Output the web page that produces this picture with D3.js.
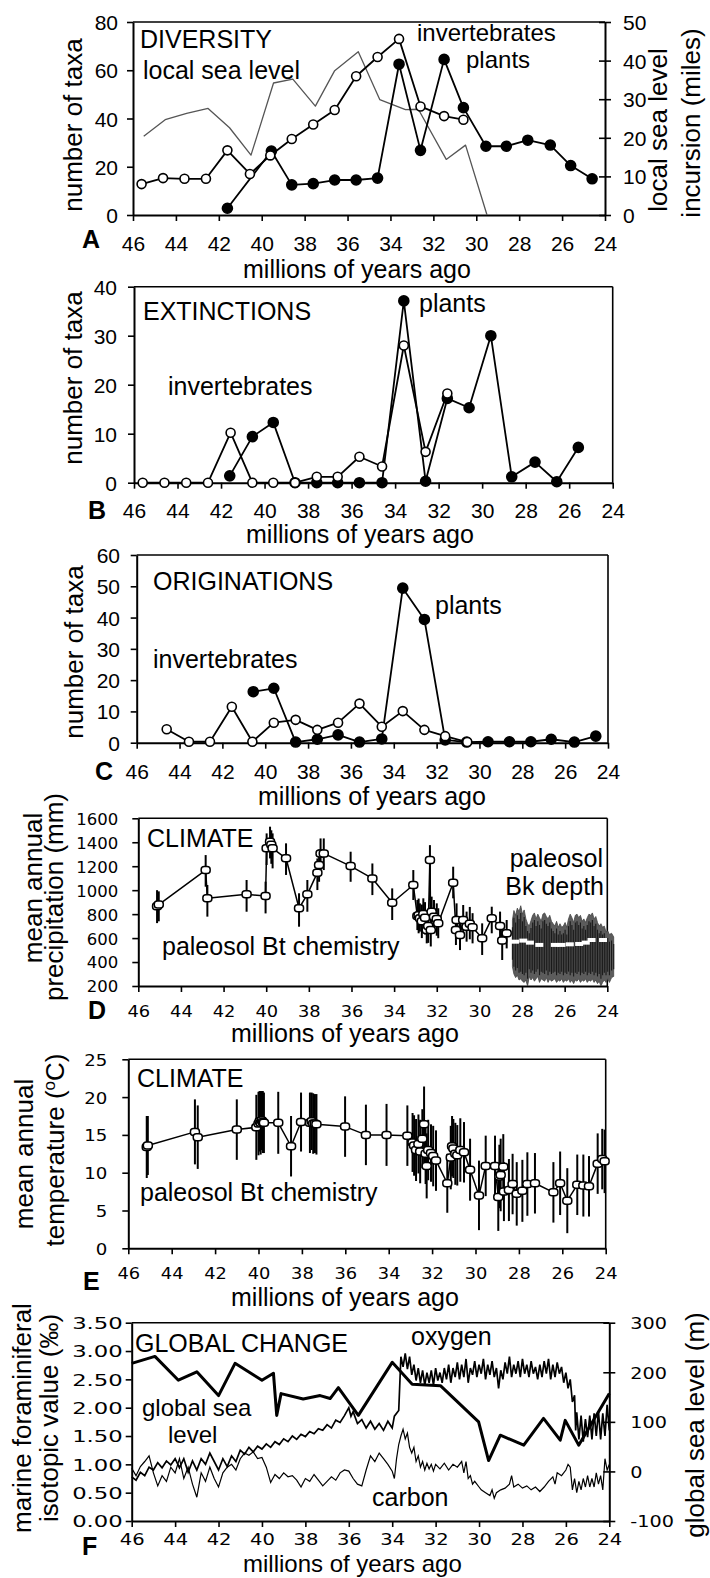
<!DOCTYPE html>
<html><head><meta charset="utf-8">
<script src="https://cdn.jsdelivr.net/npm/d3@7/dist/d3.min.js"></script>
<style>
body{margin:0;background:#fff}
svg{display:block;background:#fff}
</style></head><body>
<svg id="c" width="710" height="1578"></svg>
<script>
// ---------------- DATA ----------------
const ageTicks=[46,44,42,40,38,36,34,32,30,28,26,24];

// A: diversity
const aInvAge=[45.6,44.6,43.6,42.6,41.6,40.55,39.6,38.6,37.6,36.6,35.6,34.6,33.6,32.6,31.5,30.6];
const aInvVal=[12.8,15.3,15,15,26.8,17,24.7,31.5,37.5,43.5,57.5,65.5,73,45,41,39.5];
const aPlAge=[41.6,39.55,38.6,37.6,36.6,35.6,34.6,33.6,32.6,31.5,30.6,29.55,28.6,27.6,26.55,25.6,24.6];
const aPlVal=[2.8,26.5,12.5,13,14.5,14.5,15.3,62.5,26.8,64.5,44.5,28.5,28.5,31,29,20.5,15];
const aSeaAge=[45.5,44.5,43.5,42.5,41.5,40.5,39.45,38.55,37.5,36.6,35.5,34.5,33.3,32.7,31.4,30.5,29.5];
const aSeaVal=[20.4,24.7,26.3,27.6,22.6,15.5,34.2,35.2,28.2,37.4,42.3,29.9,27.3,27.4,14.4,18.1,0];

// B: extinctions
const bInvAge=[45.6,44.6,43.6,42.6,41.56,40.56,39.6,38.6,37.6,36.64,35.64,34.6,33.6,32.6,31.6];
const bInvVal=[0,0,0,0,10.2,0,0,0,1.2,1.2,5.3,3.3,28,6.3,18.2];
const bPlAge=[41.6,40.56,39.6,38.6,37.6,36.64,35.64,34.6,33.6,32.6,31.6,30.6,29.6,28.64,27.57,26.57,25.58];
const bPlVal=[1.4,9.4,12.3,0,0,0,0,0,37.1,0.3,17.2,15.3,30,1.2,4.2,0.2,7.2];

// C: originations
const cInvAge=[44.6,43.56,42.58,41.56,40.6,39.6,38.58,37.57,36.6,35.6,34.56,33.58,32.57,31.6,30.57];
const cInvVal=[4.3,0.3,0.3,11.5,0.3,6.4,7.3,4.1,6.4,12.5,5.1,10.1,4.1,2.1,0.2];
const cPlAge=[40.56,39.6,38.58,37.57,36.6,35.6,34.56,33.58,32.57,31.6,30.6,29.6,28.6,27.6,26.65,25.57,24.57];
const cPlVal=[16.3,17.4,0.2,1.1,2.5,0.2,1.2,49.4,39.4,0.9,0.2,0.3,0.3,0.3,1.1,0.2,2.1];

// D: precipitation (Bt chemistry) age, value, low, high (mm)
const dAge=[45.12,45.04,42.84,42.76,40.92,40.03,39.98,39.82,39.76,39.7,39.07,38.46,38.07,37.6,37.52,37.45,37.3,36.04,35.02,34.09,33.1,32.91,32.85,32.79,32.7,32.63,32.55,32.47,32.4,32.32,32.28,32.24,32.13,32.0,31.93,31.23,31.1,31.07,30.91,30.76,30.6,30.45,30.32,29.87,29.42,29.03,28.93,28.72];
const dVal=[865,880,1168,932,965,951,1349,1405,1380,1349,1266,849,965,1146,1210,1307,1307,1201,1098,895,1043,784,790,765,740,801,770,668,700,1251,668,820,779,760,723,1062,668,751,626,751,695,720,690,598,765,701,579,640];
const dLo=[725,740,1029,779,820,806,1210,1265,1220,1182,1127,695,820,1001,1070,1168,1168,1070,959,751,918,667,640,654,600,695,630,556,560,1001,530,695,654,620,599,932,542,626,500,612,570,590,556,459,640,584,417,514];
const dHi=[1000,990,1293,1043,1085,1071,1474,1530,1500,1474,1391,974,1085,1265,1340,1432,1432,1321,1223,1015,1168,918,930,890,880,932,900,793,840,1376,900,946,918,890,849,1196,793,890,751,876,821,860,808,723,862,821,695,751];
// D: paleosol Bk depth band [age, low, high] and mean markers
const dBand=[[28.45,360,750],[28.38,300,830],[28.3,270,790],[28.22,290,850],[28.14,250,820],[28.06,260,870],[27.98,240,800],[27.9,230,835],[27.82,250,760],[27.74,200,720],[27.66,280,700],[27.58,250,745],[27.5,270,790],[27.42,240,810],[27.34,260,760],[27.26,280,800],[27.18,230,770],[27.1,260,740],[27.02,250,800],[26.94,240,810],[26.86,270,780],[26.78,230,760],[26.7,260,790],[26.62,240,740],[26.54,250,720],[26.46,260,700],[26.38,230,740],[26.3,250,690],[26.22,240,720],[26.14,260,690],[26.06,230,700],[25.98,250,730],[25.9,240,690],[25.82,260,760],[25.74,230,800],[25.66,250,770],[25.58,220,730],[25.5,250,790],[25.42,240,800],[25.34,260,770],[25.26,230,790],[25.18,250,740],[25.1,240,760],[25.02,260,730],[24.94,230,770],[24.86,250,800],[24.78,240,790],[24.7,260,810],[24.62,230,760],[24.54,250,780],[24.46,220,730],[24.38,240,700],[24.3,200,720],[24.22,230,690],[24.14,250,700],[24.06,230,650],[23.98,260,660],[23.9,230,630],[23.8,270,640],[23.7,280,610]];
const dBkAge=[28.33,27.94,27.63,27.19,26.46,26.15,25.76,25.32,25.01,24.74,24.2];
const dBkVal=[570,579,562,543,543,543,548,551,562,584,584];

// E: temperature age, value, +/- error (deg C)
const eAge=[45.15,45.1,42.93,42.8,41.0,40.1,40.0,39.95,39.9,39.85,39.8,39.75,39.09,38.5,38.04,37.63,37.55,37.48,37.4,37.33,36.01,35.05,34.1,33.14,32.9,32.83,32.74,32.63,32.55,32.45,32.37,32.3,32.25,32.18,32.05,31.95,31.82,31.3,31.14,31.08,31.02,30.93,30.84,30.7,30.53,30.25,29.84,29.53,29.1,28.95,28.9,28.84,28.72,28.69,28.46,28.29,28.1,27.84,27.61,27.26,26.41,26.1,25.77,25.31,25.03,24.77,24.37,24.16,24.05];
const eVal=[13.4,13.6,15.4,14.7,15.7,16.0,16.5,16.8,16.6,16.9,16.7,16.6,16.6,13.5,16.7,16.6,16.8,16.5,16.5,16.4,16.1,15.0,15.0,14.9,14.0,13.6,13.0,13.8,12.8,14.5,16.4,12.5,10.9,13.0,12.6,12.2,11.6,8.6,12.0,13.5,13.2,12.5,12.3,13.0,12.7,10.4,7.0,10.9,10.9,6.8,9.5,9.7,10.8,7.5,7.7,8.5,7.2,7.6,8.5,8.6,7.4,8.6,6.3,8.4,8.3,8.2,11.2,11.8,11.5];
const eErr=[4.1,3.9,4.3,4.2,4.0,4.3,4.2,4.0,4.2,3.9,4.1,4.0,4.1,4.0,3.9,4.0,3.8,4.0,3.9,4.0,4.0,4.0,4.1,4.0,3.9,4.0,4.1,3.9,4.2,3.9,5.0,4.0,4.3,4.0,3.8,4.0,4.0,3.9,4.2,4.0,3.9,4.1,4.0,4.2,4.0,4.1,4.6,4.0,4.0,4.5,4.2,4.8,4.3,3.9,4.1,4.0,4.2,4.1,4.2,4.0,4.0,4.2,4.3,4.0,4.1,4.0,4.0,4.0,4.2];

// F: global change
const fSeaAge=[46.0,44.93,43.85,43.0,42.0,41.24,40.0,39.47,39.32,39.12,38.1,37.32,36.86,36.48,35.56,34.0,33.08,31.78,30.02,29.56,29.02,27.94,27.03,26.26,26.03,25.41,24.0];
const fSeaVal=[218,232,184,201,153,218,184,198,113,157,146,153,147,169,113,220,176,173,100,22,73,53,107,63,103,53,157];
const fOxygen=[[46.0,0.78],[45.8,0.72],[45.6,0.86],[45.4,0.8],[45.2,0.95],[45.0,0.9],[44.8,1.03],[44.6,0.94],[44.4,1.06],[44.2,0.99],[44.0,1.1],[43.8,0.94],[43.6,1.1],[43.4,0.86],[43.2,1.06],[43.0,0.9],[42.8,1.1],[42.6,1.0],[42.4,1.2],[42.2,1.05],[42.0,0.9],[41.8,1.1],[41.6,0.96],[41.4,1.15],[41.2,1.05],[41.0,1.25],[40.8,1.18],[40.6,1.3],[40.4,1.22],[40.2,1.32],[40.0,1.27],[39.8,1.36],[39.6,1.3],[39.4,1.4],[39.2,1.35],[39.0,1.45],[38.8,1.4],[38.6,1.5],[38.4,1.44],[38.2,1.53],[38.0,1.49],[37.8,1.58],[37.6,1.54],[37.4,1.63],[37.2,1.6],[37.0,1.7],[36.8,1.64],[36.6,1.78],[36.4,1.74],[36.2,1.86],[36.0,2.0],[35.9,1.85],[35.8,1.93],[35.6,1.72],[35.4,1.79],[35.2,1.64],[35.0,1.76],[34.8,1.62],[34.6,1.72],[34.4,1.6],[34.2,1.76],[34.0,1.64],[33.9,1.85],[33.7,1.95],[33.6,2.9],[33.5,2.72],[33.4,2.96],[33.3,2.68],[33.2,2.9],[33.1,2.58],[33.0,2.76],[32.9,2.48],[32.8,2.7],[32.7,2.44],[32.6,2.66],[32.5,2.4],[32.4,2.62],[32.3,2.44],[32.2,2.66],[32.1,2.4],[32.0,2.7],[31.9,2.48],[31.8,2.62],[31.7,2.44],[31.6,2.7],[31.5,2.5],[31.4,2.76],[31.3,2.44],[31.2,2.7],[31.1,2.54],[31.0,2.8],[30.9,2.5],[30.8,2.76],[30.7,2.54],[30.6,2.86],[30.5,2.44],[30.4,2.7],[30.3,2.58],[30.2,2.82],[30.1,2.54],[30.0,2.76],[29.9,2.6],[29.8,2.86],[29.7,2.5],[29.6,2.76],[29.5,2.58],[29.4,2.82],[29.3,2.54],[29.2,2.7],[29.1,2.34],[29.0,2.66],[28.9,2.5],[28.8,2.8],[28.7,2.6],[28.6,2.9],[28.5,2.54],[28.4,2.76],[28.3,2.6],[28.2,2.82],[28.1,2.54],[28.0,2.86],[27.9,2.6],[27.8,2.76],[27.7,2.54],[27.6,2.82],[27.5,2.6],[27.4,2.72],[27.3,2.5],[27.2,2.76],[27.1,2.54],[27.0,2.82],[26.9,2.6],[26.8,2.86],[26.7,2.5],[26.6,2.76],[26.5,2.54],[26.4,2.8],[26.3,2.6],[26.2,2.72],[26.1,2.44],[26.0,2.62],[25.9,2.34],[25.8,2.5],[25.7,2.1],[25.6,2.22],[25.55,1.6],[25.5,1.92],[25.4,1.44],[25.3,1.86],[25.2,1.4],[25.1,1.8],[25.0,1.48],[24.9,1.86],[24.8,1.44],[24.7,1.9],[24.6,1.5],[24.5,1.94],[24.4,1.44],[24.3,1.9],[24.2,1.5],[24.1,2.05],[24.0,1.6]];
const fCarbon=[[46.0,0.93],[45.8,0.8],[45.6,0.96],[45.4,1.05],[45.2,1.15],[45.0,0.85],[44.8,0.62],[44.6,0.8],[44.4,0.7],[44.2,0.95],[44.0,0.85],[43.8,1.1],[43.6,0.75],[43.4,0.95],[43.2,0.65],[43.0,0.42],[42.8,0.85],[42.6,0.7],[42.4,0.95],[42.2,0.75],[42.0,0.6],[41.8,0.85],[41.6,0.95],[41.4,1.0],[41.2,0.9],[41.0,1.1],[40.8,1.2],[40.6,1.16],[40.4,1.22],[40.2,1.1],[40.0,1.12],[39.8,0.95],[39.6,0.68],[39.4,0.82],[39.2,0.75],[39.0,0.85],[38.8,0.78],[38.6,0.8],[38.4,0.72],[38.2,0.6],[38.0,0.75],[37.8,0.7],[37.6,0.82],[37.4,0.72],[37.2,0.62],[37.0,0.7],[36.8,0.78],[36.6,0.72],[36.4,0.85],[36.2,0.9],[36.0,0.88],[35.8,0.75],[35.6,0.65],[35.4,0.62],[35.2,0.9],[35.0,1.15],[34.8,1.05],[34.6,1.2],[34.4,1.1],[34.2,1.0],[34.0,0.88],[33.9,0.75],[33.8,1.1],[33.7,1.35],[33.6,1.5],[33.5,1.62],[33.4,1.45],[33.3,1.55],[33.2,1.3],[33.1,1.2],[33.0,1.3],[32.9,1.05],[32.8,1.15],[32.7,0.95],[32.6,1.05],[32.5,0.9],[32.4,1.02],[32.3,0.92],[32.2,1.0],[32.1,0.88],[32.0,1.0],[31.8,0.92],[31.6,1.02],[31.4,0.9],[31.2,1.0],[31.0,0.95],[30.8,1.05],[30.7,0.85],[30.6,1.05],[30.5,0.75],[30.4,0.8],[30.3,0.65],[30.2,0.7],[30.0,0.6],[29.9,0.55],[29.7,0.5],[29.5,0.45],[29.4,0.55],[29.3,0.4],[29.2,0.5],[29.0,0.55],[28.8,0.58],[28.6,0.65],[28.5,0.8],[28.4,0.6],[28.2,0.65],[28.0,0.58],[27.8,0.62],[27.6,0.55],[27.4,0.6],[27.2,0.52],[27.0,0.6],[26.8,0.7],[26.6,0.78],[26.5,0.65],[26.4,0.85],[26.2,0.8],[26.0,0.9],[25.9,1.0],[25.8,0.95],[25.7,0.55],[25.6,0.75],[25.5,0.5],[25.4,0.7],[25.3,0.55],[25.2,0.75],[25.1,0.6],[25.0,0.8],[24.9,0.6],[24.8,0.75],[24.7,0.6],[24.6,0.85],[24.5,0.65],[24.4,0.8],[24.3,0.55],[24.2,1.1],[24.1,0.9],[24.0,1.0]];

// ---------------- DRAWING ----------------
const LS='"Liberation Sans", Arial, Helvetica, sans-serif';
const DV='"DejaVu Sans", Verdana, sans-serif';
const svg=d3.select("#c");

function stretch(sel,f){
  sel.each(function(){const L=this.getComputedTextLength();this.setAttribute("textLength",L*f);this.setAttribute("lengthAdjust","spacingAndGlyphs");});
}
function styleAxis(g,fam,size){
  g.attr("font-family",null).attr("font-size",null);
  g.select(".domain").attr("stroke-width",2).attr("stroke","#000");
  g.selectAll(".tick line").attr("stroke-width",1.6).attr("stroke","#000");
  g.selectAll("text").attr("font-family",fam).attr("font-size",size).attr("fill","#000");
}
function txt(x,y,s,size,anchor,weight){
  return svg.append("text").attr("x",x).attr("y",y).attr("font-family",LS).attr("font-size",size||25)
    .attr("text-anchor",anchor||"start").attr("font-weight",weight||"normal").attr("fill","#000").text(s);
}
function vtxt(x,y,s,size){
  return svg.append("text").attr("transform",`translate(${x},${y}) rotate(-90)`).attr("font-family",LS)
    .attr("font-size",size||26).attr("text-anchor","middle").attr("fill","#000").text(s);
}
function panel(c){
  const x=d3.scaleLinear().domain([46,24]).range([c.x0,c.x1]);
  const y=d3.scaleLinear().domain(c.yDom).range([c.yBot,c.yTop]);
  svg.append("line").attr("x1",c.x0).attr("x2",c.x1).attr("y1",c.yTop).attr("y2",c.yTop).attr("stroke","#000").attr("stroke-width",1.6);
  if(!c.rightAxis) svg.append("line").attr("x1",c.x1).attr("x2",c.x1).attr("y1",c.yTop).attr("y2",c.yBot).attr("stroke","#000").attr("stroke-width",1.6);
  const gx=svg.append("g").attr("transform",`translate(0,${c.yBot})`)
    .call(d3.axisBottom(x).tickValues(ageTicks).tickSize(6).tickSizeOuter(0).tickFormat(d=>d));
  styleAxis(gx,c.fam,c.fs);
  gx.selectAll("text").attr("y",c.xLab-c.yBot).attr("dy",null);
  if(c.xStretch) stretch(gx.selectAll("text"),c.xStretch);
  const gy=svg.append("g").attr("transform",`translate(${c.x0},0)`)
    .call(d3.axisLeft(y).tickValues(c.yTicks).tickSize(6).tickSizeOuter(0).tickFormat(c.yFmt||(d=>d)));
  styleAxis(gy,c.fam,c.fs);
  gy.selectAll("text").attr("x",-c.yOff).attr("dy","0.36em");
  if(c.yStretch) stretch(gy.selectAll("text"),c.yStretch);
  let yR=null;
  if(c.rightAxis){
    yR=d3.scaleLinear().domain(c.rDom).range([c.yBot,c.yTop]);
    const gr=svg.append("g").attr("transform",`translate(${c.x1},0)`)
      .call(d3.axisRight(yR).tickValues(c.rTicks).tickSize(6).tickSizeOuter(0).tickFormat(d=>d));
    styleAxis(gr,c.fam,c.fs);
    gr.selectAll(".tick line").attr("x1",-6).attr("x2",6);
    gr.selectAll("text").attr("x",c.rOff).attr("dy","0.36em");
    if(c.rStretch) stretch(gr.selectAll("text"),c.rStretch);
  }
  txt(c.letter[1],c.letter[2],c.letter[0],25,"start","bold");
  txt(c.titleX,c.titleY,"millions of years ago",c.titleFs||25);
  return {x,y,yR};
}
function line(ax,ay,x,y,w,col){
  const pts=ax.map((a,i)=>[x(a),y(ay[i])]);
  svg.append("path").attr("d",d3.line()(pts)).attr("fill","none").attr("stroke",col||"#000").attr("stroke-width",w||1.7).attr("stroke-linejoin","round");
}
function dots(ax,ay,x,y,filled){
  svg.append("g").selectAll("circle").data(ax).join("circle")
    .attr("cx",d=>x(d)).attr("cy",(d,i)=>y(ay[i])).attr("r",filled?5:4.5)
    .attr("fill",filled?"#000":"#fff").attr("stroke","#000").attr("stroke-width",1.6);
}
function squares(ax,ay,x,y){
  svg.append("g").selectAll("rect").data(ax).join("rect")
    .attr("x",d=>x(d)-4.5).attr("y",(d,i)=>y(ay[i])-3.5).attr("width",9).attr("height",7).attr("rx",3)
    .attr("fill","#fff").attr("stroke","#000").attr("stroke-width",1.5);
}
function bars(ax,lo,hi,x,y,w){
  svg.append("g").selectAll("line").data(ax).join("line")
    .attr("x1",d=>x(d)).attr("x2",d=>x(d)).attr("y1",(d,i)=>y(lo[i])).attr("y2",(d,i)=>y(hi[i]))
    .attr("stroke","#000").attr("stroke-width",w||1.8);
}

// ---- Panel A ----
{
  const p=panel({x0:133,x1:605,yTop:22,yBot:215,yDom:[0,80],yTicks:[0,20,40,60,80],fam:LS,fs:21,xLab:251,yOff:15,
    rightAxis:true,rDom:[0,50],rTicks:[0,10,20,30,40,50],rOff:18,letter:["A",82,248],titleX:243,titleY:278});
  line(aSeaAge,aSeaVal,p.x,p.yR,1.3,"#555");
  line(aPlAge,aPlVal,p.x,p.y,1.8);
  line(aInvAge,aInvVal,p.x,p.y,1.8);
  dots(aPlAge,aPlVal,p.x,p.y,true);
  dots(aInvAge,aInvVal,p.x,p.y,false);
  txt(140,48,"DIVERSITY",25);
  txt(143,79,"local sea level",25);
  txt(417,41,"invertebrates",24);
  txt(466,68,"plants",24);
  vtxt(82,125,"number of taxa");
  vtxt(667,130,"local sea level");
  vtxt(700,123,"incursion (miles)");
}
// ---- Panel B ----
{
  const p=panel({x0:134,x1:612.7,yTop:286.7,yBot:482.7,yDom:[0,40],yTicks:[0,10,20,30,40],fam:LS,fs:21,xLab:518.5,yOff:17,
    letter:["B",88,519],titleX:246,titleY:543});
  line(bPlAge,bPlVal,p.x,p.y,1.8);
  line(bInvAge,bInvVal,p.x,p.y,1.8);
  dots(bPlAge,bPlVal,p.x,p.y,true);
  dots(bInvAge,bInvVal,p.x,p.y,false);
  txt(143,320,"EXTINCTIONS",25);
  txt(168,395,"invertebrates",25);
  txt(419,312,"plants",25);
  vtxt(82,378,"number of taxa");
}
// ---- Panel C ----
{
  const p=panel({x0:136.7,x1:608,yTop:555,yBot:742.7,yDom:[0,60],yTicks:[0,10,20,30,40,50,60],fam:LS,fs:21,xLab:779,yOff:16.7,
    letter:["C",95,780],titleX:258,titleY:805});
  line(cPlAge,cPlVal,p.x,p.y,1.8);
  line(cInvAge,cInvVal,p.x,p.y,1.8);
  dots(cPlAge,cPlVal,p.x,p.y,true);
  dots(cInvAge,cInvVal,p.x,p.y,false);
  txt(153,590,"ORIGINATIONS",25);
  txt(153,668,"invertebrates",25);
  txt(435,614,"plants",25);
  vtxt(83,652,"number of taxa");
}
// ---- Panel D ----
{
  const p=panel({x0:138.3,x1:607.3,yTop:818.3,yBot:986,yDom:[200,1600],yTicks:[200,400,600,800,1000,1200,1400,1600],fam:DV,fs:16.5,xLab:1016.5,yOff:20,
    xStretch:1.08,letter:["D",88,1019],titleX:231,titleY:1042});
  const area=d3.area().x(d=>p.x(d[0])).y0(d=>p.y(d[1])).y1(d=>p.y(d[2]));
  svg.append("path").attr("d",area(dBand)).attr("fill","#5c5c5c").attr("stroke","#444").attr("stroke-width",0.8);
  svg.append("g").selectAll("line").data(dBand).join("line")
    .attr("x1",d=>p.x(d[0])).attr("x2",d=>p.x(d[0])).attr("y1",d=>p.y(d[1]+60)).attr("y2",d=>p.y(d[2]-60))
    .attr("stroke","#1a1a1a").attr("stroke-width",1.1);
  bars(dAge,dLo,dHi,p.x,p.y,2);
  line(dAge,dVal,p.x,p.y,1.5);
  squares(dAge,dVal,p.x,p.y);
  svg.append("g").selectAll("rect").data(dBkAge).join("rect")
    .attr("x",d=>p.x(d)-4).attr("y",(d,i)=>p.y(dBkVal[i])-2).attr("width",8).attr("height",4)
    .attr("fill","#fff");
  txt(147,847,"CLIMATE",25);
  txt(162,955,"paleosol Bt chemistry",25);
  txt(603,867,"paleosol",25,"end");
  txt(604,895,"Bk depth",25,"end");
  vtxt(42,888,"mean annual");
  vtxt(63,897,"precipitation (mm)");
}
// ---- Panel E ----
{
  const p=panel({x0:128.3,x1:605.7,yTop:1059.3,yBot:1248.3,yDom:[0,25],yTicks:[0,5,10,15,20,25],fam:DV,fs:16.5,xLab:1279,yOff:21,
    xStretch:1.08,yStretch:1.1,letter:["E",83,1290],titleX:231,titleY:1306});
  const lo=eVal.map((v,i)=>v-eErr[i]), hi=eVal.map((v,i)=>v+eErr[i]);
  bars(eAge,lo,hi,p.x,p.y,2);
  line(eAge,eVal,p.x,p.y,1.5);
  squares(eAge,eVal,p.x,p.y);
  txt(137,1087,"CLIMATE",25);
  txt(140,1201,"paleosol Bt chemistry",25);
  vtxt(33,1154,"mean annual");
  const t=vtxt(64,1150,"temperature (");
  t.append("tspan").attr("baseline-shift","super").attr("font-size",17).text("o");
  t.append("tspan").text("C)");
}
// ---- Panel F ----
{
  const p=panel({x0:131.7,x1:609.3,yTop:1322.7,yBot:1521,yDom:[0,3.5],yTicks:[0,0.5,1,1.5,2,2.5,3,3.5],yFmt:d3.format(".2f"),fam:DV,fs:16,xLab:1545,yOff:9,
    xStretch:1.22,yStretch:1.42,rightAxis:true,rDom:[-100,300],rTicks:[-100,0,100,200,300],rOff:21,rStretch:1.2,
    letter:["F",82,1555],titleX:243,titleY:1572,titleFs:24});
  const lg=d3.line().x(d=>p.x(d[0])).y(d=>p.y(d[1]));
  svg.append("path").attr("d",lg(fCarbon)).attr("fill","none").attr("stroke","#000").attr("stroke-width",1.2);
  svg.append("path").attr("d",lg(fOxygen)).attr("fill","none").attr("stroke","#000").attr("stroke-width",1.7);
  line(fSeaAge,fSeaVal,p.x,p.yR,3);
  txt(135,1352,"GLOBAL CHANGE",25);
  txt(142,1416,"global sea",24);
  txt(168,1443,"level",24);
  txt(411,1345,"oxygen",25);
  txt(372,1506,"carbon",25);
  vtxt(31,1418,"marine foraminiferal");
  vtxt(58,1418,"isotopic value (‰)");
  vtxt(704,1425,"global sea level (m)");
}
</script>
</body></html>
